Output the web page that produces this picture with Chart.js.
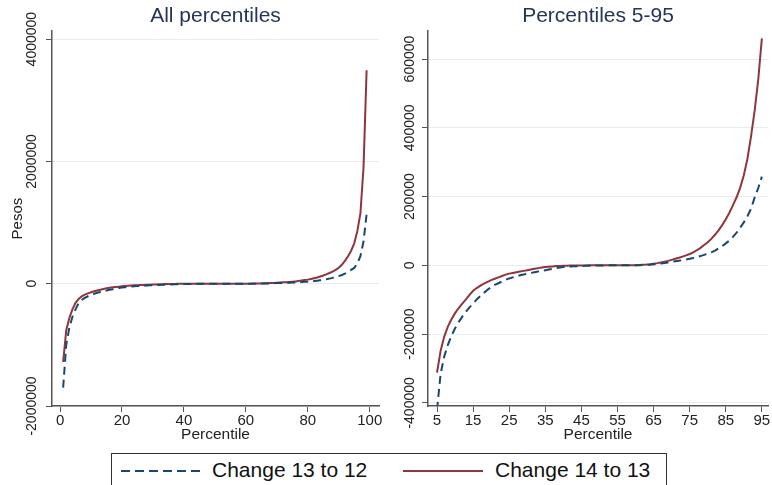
<!DOCTYPE html>
<html>
<head>
<meta charset="utf-8">
<script src="https://cdn.jsdelivr.net/npm/chart.js@4.4.0/dist/chart.umd.min.js"></script>
<style>
    body { margin: 0; background: #fff; width: 772px; height: 485px; overflow: hidden; position: relative;
           font-family: "Liberation Sans", Arial, sans-serif; }
    #leftWrap { position: absolute; left: 0; top: 0; width: 385px; height: 446px; }
    #rightWrap { position: absolute; left: 385px; top: 0; width: 387px; height: 446px; }
    #legend { position: absolute; left: 111px; top: 453px; width: 556px; height: 40px;
              border: 1px solid #333; box-sizing: border-box; }
    #legend svg { position: absolute; top: 10px; }
    #legend span { position: absolute; top: 4px; font-size: 21px; color: #111; white-space: nowrap; }
</style>
</head>
<body>
<div id="leftWrap"><canvas id="chartAll" width="385" height="446"></canvas></div>
<div id="rightWrap"><canvas id="chart595" width="387" height="446"></canvas></div>
<div id="legend">
    <svg style="left:9px" width="82" height="14"><line x1="0" y1="7" x2="80" y2="7" stroke="#1a476f" stroke-width="2.2" stroke-dasharray="9,5"/></svg>
    <span style="left:100px">Change 13 to 12</span>
    <svg style="left:291px" width="82" height="14"><line x1="0" y1="7" x2="80" y2="7" stroke="#90353b" stroke-width="2.2"/></svg>
    <span style="left:383px">Change 14 to 13</span>
</div>
<script>
// Percentiles 1..99
const percentiles = [
    1, 2, 3, 4, 5, 6, 7, 8, 9, 10,
    11, 12, 13, 14, 15, 16, 17, 18, 19, 20,
    21, 22, 23, 24, 25, 26, 27, 28, 29, 30,
    31, 32, 33, 34, 35, 36, 37, 38, 39, 40,
    41, 42, 43, 44, 45, 46, 47, 48, 49, 50,
    51, 52, 53, 54, 55, 56, 57, 58, 59, 60,
    61, 62, 63, 64, 65, 66, 67, 68, 69, 70,
    71, 72, 73, 74, 75, 76, 77, 78, 79, 80,
    81, 82, 83, 84, 85, 86, 87, 88, 89, 90,
    91, 92, 93, 94, 95, 96, 97, 98, 99
];

// Change 13 to 12 (pesos)
const change13to12 = [
    -1700000, -1000000, -720000, -540000, -420000, -315000, -265000, -231000, -205000, -183000,
    -165000, -149000, -135000, -122000, -111000, -99000, -89000, -80000, -71000, -63000,
    -57000, -52000, -47000, -42000, -38000, -35000, -32000, -29000, -26500, -24000,
    -22000, -20000, -18000, -16000, -14000, -12000, -10000, -8000, -6500, -5000,
    -4200, -3500, -2800, -2200, -1700, -1300, -1000, -700, -500, -300,
    -100, 0, 0, 0, 0, 0, 0, 0, 0, 200,
    500, 800, 1300, 2000, 3000, 4000, 5200, 6500, 8000, 10000,
    12000, 13500, 15000, 17000, 19000, 21500, 24000, 27000, 30500, 34000,
    38000, 43000, 49000, 56000, 64000, 72000, 83000, 95000, 110000, 125000,
    143000, 165000, 197000, 225000, 258000, 330000, 450000, 690000, 1140000
];

// Change 14 to 13 (pesos)
const change14to13 = [
    -1280000, -760000, -560000, -420000, -312000, -248000, -207000, -178000, -157000, -139000,
    -124000, -111000, -99000, -86000, -74000, -66000, -59000, -53000, -48000, -43000,
    -39000, -35000, -31000, -27000, -24000, -22000, -20000, -18000, -16000, -14000,
    -12000, -10000, -8000, -6500, -5000, -4000, -3000, -2000, -1500, -1000,
    -800, -600, -400, -300, -200, -100, 0, 0, 0, 0,
    0, 0, 0, 0, 0, 0, 100, 200, 300, 600,
    1000, 1600, 2400, 3500, 5000, 6500, 8500, 10500, 13000, 16000,
    19000, 22000, 25500, 29000, 33000, 38000, 44000, 51000, 59000, 67000,
    77000, 89000, 102000, 117000, 134000, 153000, 175000, 198000, 226000, 262000,
    310000, 375000, 450000, 540000, 660000, 860000, 1150000, 1900000, 3490000
];

// Tick labels
const xTicksAll = [0, 20, 40, 60, 80, 100];
const yTicksAll = [-2000000, 0, 2000000, 4000000];
const xTicks595 = [5, 15, 25, 35, 45, 55, 65, 75, 85, 95];
const yTicks595 = [-400000, -200000, 0, 200000, 400000, 600000];

const FONT = '"Liberation Sans", Arial, sans-serif';
const BLUE = '#1a476f';
const RED = '#90353b';
const AXIS = '#555555';

// Y tick labels are written vertically, like in Stata
const rotatedYTicks = {
    id: 'rotatedYTicks',
    afterDraw(chart, args, opts) {
        const y = chart.scales.y;
        const ctx = chart.ctx;
        ctx.save();
        ctx.font = '14px ' + FONT;
        ctx.fillStyle = '#222';
        ctx.textAlign = 'center';
        ctx.textBaseline = 'middle';
        y.ticks.forEach(t => {
            const py = y.getPixelForValue(t.value);
            ctx.save();
            ctx.translate(y.right - opts.offset, py);
            ctx.rotate(-Math.PI / 2);
            ctx.fillText(String(t.value), 0, 0);
            ctx.restore();
        });
        ctx.restore();
    }
};

function points(xs, ys) {
    return xs.map((x, i) => ({ x: x, y: ys[i] }));
}

function makeChart(canvasId, cfg) {
    new Chart(document.getElementById(canvasId), {
        type: 'line',
        data: {
            datasets: [
                {
                    label: 'Change 13 to 12',
                    data: points(cfg.xs, cfg.blue),
                    borderColor: BLUE,
                    borderWidth: 2,
                    borderDash: [8, 5],
                    pointRadius: 0,
                    tension: 0
                },
                {
                    label: 'Change 14 to 13',
                    data: points(cfg.xs, cfg.red),
                    borderColor: RED,
                    borderWidth: 2,
                    pointRadius: 0,
                    tension: 0
                }
            ]
        },
        options: {
            responsive: false,
            animation: false,
            devicePixelRatio: 1,
            layout: { padding: { left: 0, right: cfg.padRight, top: 0, bottom: 0 } },
            plugins: {
                legend: { display: false },
                tooltip: { enabled: false },
                title: {
                    display: true,
                    text: cfg.title,
                    color: '#24345c',
                    fullSize: false,
                    font: { family: FONT, size: 21, weight: 'normal' },
                    padding: { top: 4, bottom: 2 }
                },
                rotatedYTicks: { offset: cfg.labelOffset }
            },
            scales: {
                x: {
                    type: 'linear',
                    min: cfg.xMin,
                    max: cfg.xMax,
                    afterBuildTicks: axis => { axis.ticks = cfg.xTicks.map(v => ({ value: v })); },
                    afterFit: axis => { axis.height = 40; },
                    ticks: { font: { family: FONT, size: 15 }, color: '#222', padding: 0, maxRotation: 0 },
                    grid: { drawOnChartArea: false, tickLength: 6, tickColor: AXIS },
                    border: { color: AXIS, width: 1.5 },
                    title: {
                        display: true,
                        text: 'Percentile',
                        color: '#222',
                        font: { family: FONT, size: 15.5 },
                        padding: { top: 0, bottom: 2 }
                    }
                },
                y: {
                    min: cfg.yMin,
                    max: cfg.yMax,
                    afterBuildTicks: axis => { axis.ticks = cfg.yTicks.map(v => ({ value: v })); },
                    afterFit: axis => { axis.width = cfg.yWidth; },
                    ticks: { display: false },
                    grid: { color: '#e4edef', lineWidth: 1, tickLength: 6, tickColor: AXIS },
                    border: { color: AXIS, width: 1.5 },
                    title: {
                        display: cfg.yTitle !== '',
                        text: cfg.yTitle,
                        color: '#222',
                        font: { family: FONT, size: 15 },
                        padding: { top: 9, bottom: 0 }
                    }
                }
            }
        },
        plugins: [rotatedYTicks]
    });
}

makeChart('chartAll', {
    title: 'All percentiles',
    xs: percentiles,
    blue: change13to12,
    red: change14to13,
    xMin: -2.6, xMax: 103,
    yMin: -2000000, yMax: 4130000,
    xTicks: xTicksAll,
    yTicks: yTicksAll,
    yWidth: 52,
    padRight: 6,
    labelOffset: 20,
    yTitle: 'Pesos'
});

// Percentiles 5 to 95 only
const from = percentiles.indexOf(5);
const to = percentiles.indexOf(95) + 1;

makeChart('chart595', {
    title: 'Percentiles 5-95',
    xs: percentiles.slice(from, to),
    blue: change13to12.slice(from, to),
    red: change14to13.slice(from, to),
    xMin: 2.5, xMax: 96.7,
    yMin: -409000, yMax: 681000,
    xTicks: xTicks595,
    yTicks: yTicks595,
    yWidth: 43,
    padRight: 4,
    labelOffset: 17.5,
    yTitle: ''
});
</script>
</body>
</html>
